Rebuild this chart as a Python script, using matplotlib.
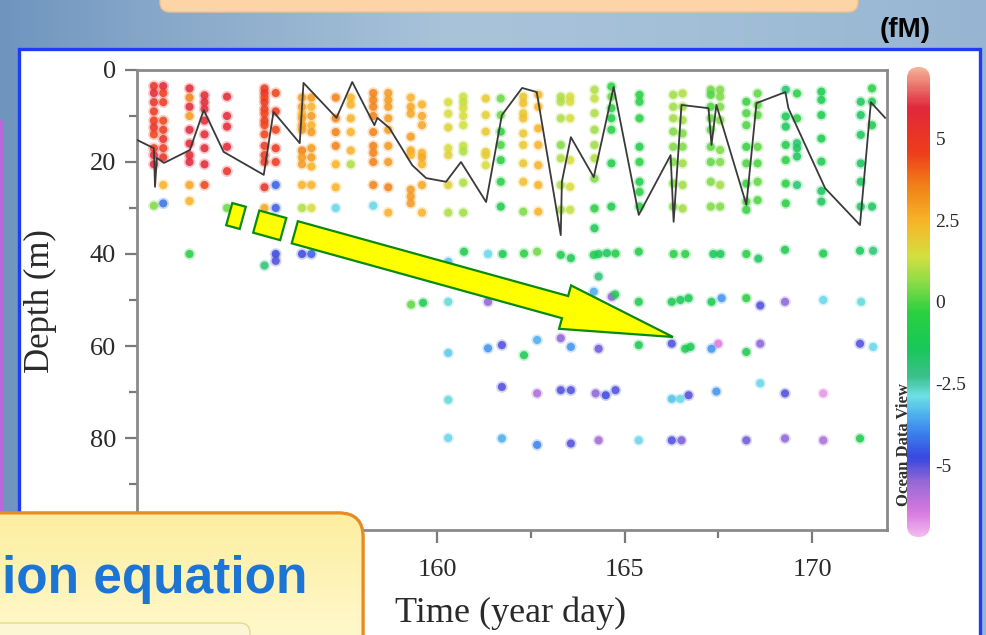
import numpy as np
import matplotlib
matplotlib.use('Agg')
import matplotlib.pyplot as plt
from matplotlib import transforms
from matplotlib.colors import LinearSegmentedColormap, Normalize, to_rgb
from matplotlib.patches import FancyBboxPatch, Rectangle, FancyArrow, Polygon
from matplotlib.ticker import FixedLocator

W, H = 986, 635

# upper casts: year day, sample depths (m), value (fM)
station_day = [152.45, 152.7, 153.4, 153.8, 154.4, 155.4, 155.7, 156.4, 156.65, 157.3,
               157.7, 158.3, 158.7, 159.3, 159.6, 160.3, 160.7, 161.3, 161.7, 162.3,
               162.7, 163.3, 163.55, 164.2, 164.65, 165.4, 166.3, 166.55, 167.3, 167.55,
               168.25, 168.55, 169.3, 169.6, 170.25, 171.3, 171.6]
station_depth = [
    [3.5, 5, 7, 9, 11, 12.5, 14, 17, 18.5, 20.5, 29.5],
    [3.5, 5, 7, 11, 13, 15, 17, 19, 25, 29],
    [4, 6, 8, 10, 13, 16, 18.5, 20, 25, 28.5, 40],
    [5.5, 7, 8.5, 11, 14, 17, 20.5, 25],
    [5.8, 10, 12.3, 16.7, 22, 30],
    [4, 5, 6, 7, 8.5, 9.5, 11, 12, 14, 16.5, 18.5, 20, 25.5, 30, 42.5],
    [5, 9, 13, 17, 20, 25, 30, 40, 41.5],
    [6, 8, 9.5, 10.5, 12, 13, 17.5, 19, 20.5, 25, 30, 40],
    [6, 8, 10, 12, 13.5, 17, 19, 21, 25, 30, 40],
    [6, 10.5, 13.5, 16.5, 20.5, 25.5, 30],
    [6, 7.5, 10.5, 13.5, 17.5, 20.5],
    [5, 6.5, 8, 10, 13.5, 16.5, 18, 20, 25, 29.5],
    [5, 6.5, 8, 10.5, 13, 16.5, 20, 25.5, 31],
    [6, 8, 9.5, 14.5, 17.5, 18.5, 26, 27.5, 29],
    [7.5, 10, 12, 18, 19, 20.5, 25, 31],
    [7, 9.5, 12.5, 17, 18.5, 25, 31],
    [5.8, 7, 8.3, 10, 12, 16.5, 17.7, 24.5, 31],
    [6.2, 9.8, 13.4, 17.8, 18.5, 20.7],
    [6.2, 9.8, 13.4, 16.3, 19.6, 24.3, 29.7],
    [5.8, 7.2, 9.4, 10.5, 13.8, 16.3, 20.3, 24.3, 30.8],
    [5.4, 8, 12.7, 16.3, 20.7, 25, 30.8],
    [5.8, 6.9, 10.5, 16.3, 19.2, 25, 30.4],
    [5.8, 6.9, 10.5, 19.6, 25.4, 30.4],
    [4.3, 6.2, 9.4, 13.0, 16.3, 19.2, 23.6, 30.1, 34.4],
    [3.6, 5.8, 8.3, 10.5, 13.0, 20.3, 29.7],
    [5.4, 6.9, 10.5, 16.7, 20, 24.3, 26.5, 29.7],
    [5.4, 8, 10.5, 13.4, 16.7, 20, 24.7, 29.7],
    [5.1, 8, 10.9, 13.8, 16.7, 20.3, 25, 30.1],
    [4.3, 5.4, 8, 10.5, 13, 16.7, 20, 24.3, 29.7],
    [4.3, 5.8, 8, 10.9, 17.4, 20, 25, 29.7],
    [6.9, 9.4, 12, 16.7, 20.3, 24.7, 28.6, 30.4],
    [5.1, 7.6, 9.8, 16.7, 20.3, 24.3, 28.3],
    [4.3, 10.1, 12.3, 16.3, 19.6, 24.7, 29.0],
    [5.1, 10.5, 15.9, 17, 18.8, 25],
    [4.7, 6.5, 9.8, 14.9, 19.9, 26.3, 28.6],
    [6.9, 9.8, 14.1, 20.3, 24.3, 29.7],
    [4, 6.9, 12, 29.7],
]
station_value = [
    [5.2, 5.8, 5.2, 4.8, 4.8, 5.2, 4.5, 4.8, 5.8, 5.8, 0.5],
    [5.8, 4.8, 4.8, 4.5, 4.8, 5.2, 4.8, 5.2, 2.5, -4.2],
    [5.8, 3.5, 5.8, 3, 6, 5.8, 5.8, 6, 2.8, 2.5, -0.6],
    [5.8, 5.8, 6, 5.8, 5.8, 5.8, 5.8, 4.5],
    [5.8, 5.8, 5.8, 5.8, 5.2, 0.3],
    [4.8, 5.2, 4.5, 4.8, 4.8, 4.5, 4.8, 4.5, 4.5, 4.8, 4.8, 4.8, 5.2, 2.8, -2],
    [4.5, 4.8, 4.5, 4.8, 4.8, -4.5, -4.5, -4.8, -5],
    [3, 3, 2.5, 3, 3, 3, 3.5, 3, 3, 2.5, 1, -4.8],
    [3, 2.5, 3, 2.5, 3, 3, 3, 2.5, 2.5, 1.5, -4.5],
    [3.5, 3.5, 3.5, 3.5, 2.5, 2.5, -3],
    [2.5, 2.5, 2.5, 2.5, 2.5, 1],
    [3.5, 3.5, 3.5, 3.5, 3.5, 3.5, 3.5, 3.5, 3.5, -3],
    [3, 3, 3, 3, 3, 3, 3, 3.5, 2.5],
    [2.5, 2.8, 2.8, 3, 2.8, 2.5, 3, 3, 3],
    [2.5, 2.8, 2.8, 2.5, 2.8, 2.5, 2.8, 2.5],
    [1.5, 1.5, 1.8, 1.5, 1.8, 1.8, 1],
    [1.3, 1.2, 1.5, 1.5, 1.3, 1.2, 1.0, 1.0, 0.8],
    [2, 1.8, 2, 1.8, 1.8, 1.5],
    [0.3, 0.3, -0.3, 0, -0.5, -0.5, -1],
    [2, 2.2, 2, 2.2, 2, 2, 2, 2.2, 0.5],
    [2.5, 2.5, 2.5, 2.5, 2.5, 2.5, 2.5],
    [1, 1, 1, 0.5, 1, 1, 0.8],
    [1.5, 1.5, 1.5, 1.5, 1.5, 1.2],
    [1, 1.2, 1, 0.8, 0.8, 1, 0.5, -0.5, -1.2],
    [-0.3, 0.2, -0.5, -0.8, -0.5, -0.8, -1],
    [-0.5, -0.5, -0.5, -0.8, -0.5, -0.8, -0.5, -0.5],
    [0.8, 0.8, 0.8, 0.5, 0.5, 0.5, 0.5, 0.5],
    [1, 0.8, 0.8, 0.5, 0.5, 0.8, 0.8, 0.8],
    [0.3, 0, 0, 0.3, 0.2, 0.2, 0.2, 0.5, 0.5],
    [0.5, 0.5, 0.5, 0.5, 0.5, 0.5, 0.8, 0.5],
    [-0.2, 0, 0, -0.2, 0, -0.2, 0, -0.2],
    [0.2, 0.2, 0.2, 0.2, 0, 0.2, 0],
    [-1.8, -1.2, -1.5, -0.8, -0.5, -0.5, -0.5],
    [-0.5, -0.5, -1.8, -1.5, -1.5, -1.8],
    [-1, -1, -1, -1, -1, -1.5, -1.5],
    [-1.5, -1.5, -1.5, -1.5, -1.5, -1.5],
    [-0.5, -1, -1, -1.5],
]

# deeper samples (below ~38 m)
deep_day = [160.3, 160.72, 161.36, 161.75, 162.32, 162.67, 163.3, 163.57, 164.18, 164.31,
            164.53, 164.76, 165.38, 166.31, 166.62, 167.37, 167.56, 168.25, 168.57, 169.28,
            170.3, 171.28, 171.63,
            164.31, 164.18, 164.66, 164.75,
            159.31, 159.63, 160.3, 161.36, 165.38, 166.26, 166.49, 166.71, 167.32, 167.59,
            168.25, 168.62, 169.28, 170.3, 171.31,
            160.3, 161.36, 161.73, 162.32, 162.67, 163.3, 163.57, 164.31, 165.38, 166.26,
            166.62, 166.76, 167.32, 167.5, 168.25, 168.62, 171.28, 171.63,
            160.3, 161.73, 162.67, 163.3, 163.57, 164.23, 164.5, 164.76, 166.26, 166.49,
            166.71, 167.45, 168.62, 169.28, 170.3,
            160.3, 161.73, 162.67, 163.57, 164.31, 165.38, 166.26, 166.52, 168.25, 169.28,
            170.3, 171.28]
deep_depth = [41.7, 39.5, 40.0, 40.0, 39.9, 39.5, 40.2, 40.9, 40.2, 40.0,
              39.8, 39.9, 39.5, 40.0, 40.0, 40.0, 40.0, 40.0, 41.0, 39.1,
              39.9, 39.3, 39.3,
              44.9, 48.2, 49.3, 48.8,
              51.0, 50.6, 50.4, 50.4, 50.4, 50.4, 50.0, 49.6, 50.4, 49.6,
              49.6, 51.2, 50.4, 50.0, 50.4,
              61.5, 60.5, 59.8, 62.0, 58.7, 58.3, 60.2, 60.6, 59.8, 59.5,
              60.6, 60.2, 60.6, 59.5, 61.3, 59.5, 59.5, 60.2,
              71.7, 68.9, 70.3, 69.6, 69.6, 70.3, 70.7, 69.6, 71.5, 71.5,
              70.7, 69.9, 68.1, 70.3, 70.3,
              80.0, 80.1, 81.5, 81.2, 80.5, 80.5, 80.5, 80.5, 80.5, 80.1,
              80.5, 80.1]
deep_value = [-3.3, -1.0, -3.0, -1.2, -0.5, 0.3, -1.0, -1.3, -1.0, -1.3,
              -1.5, -0.8, -0.8, -0.5, -0.5, -1.3, -1.3, -0.5, -1.5, -1.0,
              -1.0, -1.5, -2.0,
              -2.0, -3.5, -5.5, -1.0,
              0.2, -1.0, -2.8, -5.5, -1.0, -1.2, -1.2, -1.2, -1.2, -3.8,
              -0.5, -5.0, -5.5, -3.0, -2.8,
              -3.2, -3.8, -5.0, -1.2, -3.5, -5.5, -3.8, -5.2, -1.2, -5.0,
              -1.2, -1.2, -3.8, -6.5, -1.0, -5.5, -5.0, -3.0,
              -2.8, -5.0, -5.8, -5.0, -5.0, -5.5, -4.8, -5.0, -3.3, -3.0,
              -5.0, -3.8, -3.0, -5.0, -6.8,
              -3.0, -3.5, -4.0, -5.0, -5.7, -3.0, -5.0, -5.3, -5.2, -5.5,
              -5.8, -1.0]

# mixed layer depth line
mld_day = [152.0, 152.45, 152.48, 152.53, 152.72, 153.41, 153.78, 154.31, 155.38, 155.64,
           156.34, 156.44, 157.32, 157.74, 158.33, 158.41, 158.73, 159.34, 159.71, 160.24,
           160.64, 161.31, 161.73, 162.27, 162.66, 163.30, 163.33, 163.57, 164.18, 164.71,
           165.38, 166.23, 166.31, 166.52, 167.24, 167.32, 167.45, 168.25, 168.52, 169.29,
           169.37, 170.35, 171.28, 171.57, 171.95]
mld_depth = [15.2, 17.0, 25.4, 19.1, 20.2, 17.4, 8.7, 17.8, 22.8, 9.1,
             15.9, 2.8, 10.4, 2.6, 12.0, 10.4, 12.6, 20.7, 23.5, 24.3,
             20.0, 28.7, 9.8, 3.9, 4.8, 35.9, 24.3, 14.6, 23.3, 3.7,
             31.5, 18.5, 33.0, 7.6, 8.3, 16.3, 7.6, 29.3, 7.2, 4.8,
             8.3, 25.7, 33.7, 7.0, 10.4]

x_major = [160, 165, 170]
x_minor = [162.5, 167.5]
y_major = [0, 20, 40, 60, 80]
y_minor = [10, 30, 50, 70, 90]
cbar_ticks = [-5, -2.5, 0, 2.5, 5]
cbar_labels = ['-5', '-2.5', '0', '2.5', '5']

# ODV-like palette
odv_stops = [(-7.2, '#f2b8f0'), (-6.5, '#d97ae0'), (-5.6, '#9a6ad6'), (-4.8, '#3848e0'),
             (-4.0, '#3c84ee'), (-3.4, '#52b8ee'), (-2.9, '#6ee0e6'), (-2.3, '#3cc08c'),
             (-1.4, '#18c858'), (-0.3, '#2cd040'), (0.6, '#8cdc48'), (1.4, '#d4e040'),
             (2.5, '#f8b428'), (3.6, '#f08018'), (4.6, '#ee3e1a'), (6.0, '#e0283c'),
             (7.2, '#f4b094')]
vmin, vmax = -7.2, 7.2
cmap = LinearSegmentedColormap.from_list(
    'odv', [((v - vmin) / (vmax - vmin), c) for v, c in odv_stops])
norm = Normalize(vmin, vmax)

serif = 'Liberation Serif'

fig = plt.figure(figsize=(W / 100, H / 100), dpi=100)
px = transforms.Affine2D().scale(0.01, -0.01).translate(0, H / 100) + fig.dpi_scale_trans

# ---- slide background ----
bg = fig.add_axes([0, 0, 1, 1], zorder=0)
bg.set_xlim(0, W)
bg.set_ylim(H, 0)
bg.axis('off')
grad_x = [0, 150, 450, 700, 986]
grad_c = ['#6f95bf', '#86a7c9', '#a9c3da', '#a3bfd8', '#97b5d2']
cols = np.array([to_rgb(c) for c in grad_c])
xs = np.linspace(0, W, 200)
strip = np.stack([np.interp(xs, grad_x, cols[:, k]) for k in range(3)], axis=-1)
bg.imshow(strip[None, :, :], extent=[0, W, H, 0], aspect='auto', zorder=0)
bg.add_patch(Rectangle((0, 120), 3, 400, fc='#b868d8', ec='none', zorder=1))
bg.add_patch(FancyBboxPatch((160, -20), 698, 32, boxstyle='round,pad=0,rounding_size=10',
                            fc='#fdd4a6', ec='#f3c08e', lw=1, zorder=1))
bg.text(905, 30, '(fM)', ha='center', va='center', fontsize=20, fontweight='bold',
        family='Liberation Sans', color='black')
bg.add_patch(Rectangle((18.5, 48.5), 961.5, 600, fc='white', ec='#1f3cf5', lw=2.4, zorder=2))

# ---- main section plot ----
ax = fig.add_axes([137 / W, 1 - 530 / H, 750 / W, 460 / H], zorder=1)
pt_day = [d for d, zs in zip(station_day, station_depth) for _ in zs] + deep_day
pt_depth = [z for zs in station_depth for z in zs] + deep_depth
pt_value = [v for vs in station_value for v in vs] + deep_value
ax.scatter(pt_day, pt_depth, c=pt_value, cmap=cmap, norm=norm, s=70, alpha=0.25,
           linewidths=0, zorder=2)
ax.scatter(pt_day, pt_depth, c=pt_value, cmap=cmap, norm=norm, s=34, alpha=0.85,
           linewidths=0, zorder=2)
ax.plot(mld_day, mld_depth, color='#3a3a3a', lw=1.3, zorder=3)

ax.set_xlim(152, 172)
ax.set_ylim(100, 0)
ax.xaxis.set_major_locator(FixedLocator(x_major))
ax.xaxis.set_minor_locator(FixedLocator(x_minor))
ax.yaxis.set_major_locator(FixedLocator(y_major))
ax.yaxis.set_minor_locator(FixedLocator(y_minor))
ax.tick_params(which='both', direction='out', color='#7a7a7a', width=1.6,
               labelsize=19, labelcolor='#2a2a2a')
ax.tick_params(axis='y', which='major', length=9, pad=6)
ax.tick_params(axis='y', which='minor', length=6)
ax.tick_params(axis='x', which='major', length=9, pad=12)
ax.tick_params(axis='x', which='minor', length=6)
for lab in ax.get_xticklabels() + ax.get_yticklabels():
    lab.set_family(serif)
for sp in ax.spines.values():
    sp.set_color('#8a8a8a')
    sp.set_linewidth(2)
ax.set_xlabel('Time (year day)', family=serif, fontsize=26, color='#2a2a2a')
ax.set_ylabel('Depth (m)', family=serif, fontsize=25, color='#2a2a2a')
ax.xaxis.set_label_coords(0.4987, -0.145)
ax.yaxis.set_label_coords(-0.107, 0.498)

# ---- colour bar with rounded ends ----
cax = fig.add_axes([907 / W, 1 - 537 / H, 23 / W, 470 / H], zorder=1)
levels = np.linspace(vmin, vmax, 300)
im = cax.imshow(levels[:, None], extent=[0, 1, vmin, vmax], origin='lower', aspect='auto',
                cmap=cmap, norm=norm)
clip = FancyBboxPatch((907, 67), 23, 470, boxstyle='round,pad=0,rounding_size=11.5',
                      transform=px)
im.set_clip_path(clip)
cax.set_xlim(0, 1)
cax.set_ylim(vmin, vmax)
cax.set_xticks([])
cax.yaxis.tick_right()
cax.set_yticks(cbar_ticks)
cax.set_yticklabels(cbar_labels, family=serif, fontsize=14, color='#2a2a2a')
cax.tick_params(axis='y', length=0, pad=4)
for sp in cax.spines.values():
    sp.set_visible(False)
cax.patch.set_alpha(0)
fig.text(904 / W, 1 - 445 / H, 'Ocean Data View', rotation=90, ha='center', va='center',
         family=serif, fontsize=12, fontweight='bold', color='#303030', zorder=5)

# ---- slide overlay: arrow and text box ----
ov = fig.add_axes([0, 0, 1, 1], zorder=3)
ov.set_xlim(0, W)
ov.set_ylim(H, 0)
ov.axis('off')
ov.patch.set_alpha(0)

a0 = np.array([236.0, 216.0])
tip = np.array([673.0, 337.0])
dvec = tip - a0
alen = np.hypot(*dvec)
unit = dvec / alen
nrm = np.array([-unit[1], unit[0]])
bw = 23
for t0, t1 in [(-7, 7), (21, 49)]:
    p0, p1 = a0 + unit * t0, a0 + unit * t1
    ov.add_patch(Polygon([p0 + nrm * bw / 2, p1 + nrm * bw / 2, p1 - nrm * bw / 2, p0 - nrm * bw / 2],
                         closed=True, fc='#ffff00', ec='#0a8a0a', lw=1.6))
s0 = a0 + unit * 61
ov.add_patch(FancyArrow(s0[0], s0[1], *(unit * (alen - 61)), width=bw, head_width=45,
                        head_length=112, length_includes_head=True,
                        fc='#ffff00', ec='#0a8a0a', lw=1.6))

# yellow text box in the lower left corner
box = FancyBboxPatch((-30, 513), 393, 160, boxstyle='round,pad=0,rounding_size=24',
                     fc='#fef4bc', ec='#e98b24', lw=2.2, zorder=3)
ov.add_patch(box)
box_c = np.array([to_rgb('#fdeea0'), to_rgb('#fffbd8')])
gy = np.linspace(0, 1, 50)
box_img = box_c[0] * (1 - gy[:, None]) + box_c[1] * gy[:, None]
bimg = ov.imshow(box_img[:, None, :].repeat(2, axis=1), extent=[-30, 363, 673, 513],
                 aspect='auto', zorder=3.5)
bimg.set_clip_path(box)
edge = FancyBboxPatch((-30, 513), 393, 160, boxstyle='round,pad=0,rounding_size=24',
                      fc='none', ec='#e98b24', lw=2.2, zorder=4)
ov.add_patch(edge)
ov.set_xlim(0, W)
ov.set_ylim(H, 0)
ov.add_patch(FancyBboxPatch((-20, 623), 270, 40, boxstyle='round,pad=0,rounding_size=10',
                            fc='#fdf6d4', ec='#e8d88a', lw=1, zorder=4))
ov.text(308, 593, 'ion equation', ha='right', va='baseline', family='Liberation Sans',
        fontsize=37, fontweight='bold', color='#1c74d4', zorder=5)

fig.savefig('out.png', dpi=100)
